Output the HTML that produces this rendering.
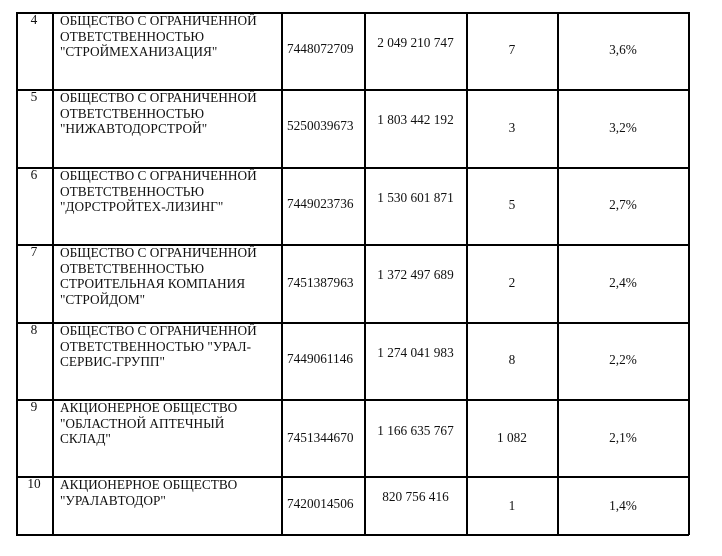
<!DOCTYPE html>
<html><head><meta charset="utf-8"><style>
body{margin:0;width:722px;height:556px;background:#fff;position:relative;overflow:hidden;font-family:"Liberation Serif","DejaVu Serif",serif;font-size:13.3px;color:#111}
.l{position:absolute;background:#000}
.t{position:absolute;line-height:15.5px;white-space:nowrap}
.c{position:absolute;text-align:center;line-height:16px;white-space:nowrap}
</style></head><body>
<div class="l" style="left:16px;top:12px;width:673px;height:1.5px"></div>
<div class="l" style="left:16px;top:89px;width:673px;height:1.5px"></div>
<div class="l" style="left:16px;top:167px;width:673px;height:1.5px"></div>
<div class="l" style="left:16px;top:244px;width:673px;height:1.5px"></div>
<div class="l" style="left:16px;top:322px;width:673px;height:1.5px"></div>
<div class="l" style="left:16px;top:399px;width:673px;height:1.5px"></div>
<div class="l" style="left:16px;top:476px;width:673px;height:1.5px"></div>
<div class="l" style="left:16px;top:534px;width:673px;height:1.5px"></div>
<div class="l" style="left:16px;top:12px;width:1.5px;height:523px"></div>
<div class="l" style="left:52px;top:12px;width:1.5px;height:523px"></div>
<div class="l" style="left:281px;top:12px;width:1.5px;height:523px"></div>
<div class="l" style="left:364px;top:12px;width:1.5px;height:523px"></div>
<div class="l" style="left:466px;top:12px;width:1.5px;height:523px"></div>
<div class="l" style="left:557px;top:12px;width:1.5px;height:523px"></div>
<div class="l" style="left:688px;top:12px;width:1.5px;height:523px"></div>

<!-- rows -->
<div class="c" style="left:16px;width:36px;top:12px">4</div>
<div class="t" style="left:60px;top:13px">ОБЩЕСТВО С ОГРАНИЧЕННОЙ<br>ОТВЕТСТВЕННОСТЬЮ<br>"СТРОЙМЕХАНИЗАЦИЯ"</div>
<div class="t" style="left:287px;top:41px">7448072709</div>
<div class="c" style="left:365px;width:101px;top:35px">2 049 210 747</div>
<div class="c" style="left:467px;width:90px;top:42px">7</div>
<div class="c" style="left:558px;width:130px;top:42px">3,6%</div>

<div class="c" style="left:16px;width:36px;top:89px">5</div>
<div class="t" style="left:60px;top:90px">ОБЩЕСТВО С ОГРАНИЧЕННОЙ<br>ОТВЕТСТВЕННОСТЬЮ<br>"НИЖАВТОДОРСТРОЙ"</div>
<div class="t" style="left:287px;top:118px">5250039673</div>
<div class="c" style="left:365px;width:101px;top:112px">1 803 442 192</div>
<div class="c" style="left:467px;width:90px;top:120px">3</div>
<div class="c" style="left:558px;width:130px;top:120px">3,2%</div>

<div class="c" style="left:16px;width:36px;top:167px">6</div>
<div class="t" style="left:60px;top:168px">ОБЩЕСТВО С ОГРАНИЧЕННОЙ<br>ОТВЕТСТВЕННОСТЬЮ<br>"ДОРСТРОЙТЕХ-ЛИЗИНГ"</div>
<div class="t" style="left:287px;top:196px">7449023736</div>
<div class="c" style="left:365px;width:101px;top:190px">1 530 601 871</div>
<div class="c" style="left:467px;width:90px;top:197px">5</div>
<div class="c" style="left:558px;width:130px;top:197px">2,7%</div>

<div class="c" style="left:16px;width:36px;top:244px">7</div>
<div class="t" style="left:60px;top:245px">ОБЩЕСТВО С ОГРАНИЧЕННОЙ<br>ОТВЕТСТВЕННОСТЬЮ<br>СТРОИТЕЛЬНАЯ КОМПАНИЯ<br>"СТРОЙДОМ"</div>
<div class="t" style="left:287px;top:275px">7451387963</div>
<div class="c" style="left:365px;width:101px;top:267px">1 372 497 689</div>
<div class="c" style="left:467px;width:90px;top:275px">2</div>
<div class="c" style="left:558px;width:130px;top:275px">2,4%</div>

<div class="c" style="left:16px;width:36px;top:322px">8</div>
<div class="t" style="left:60px;top:323px">ОБЩЕСТВО С ОГРАНИЧЕННОЙ<br>ОТВЕТСТВЕННОСТЬЮ "УРАЛ-<br>СЕРВИС-ГРУПП"</div>
<div class="t" style="left:287px;top:351px">7449061146</div>
<div class="c" style="left:365px;width:101px;top:345px">1 274 041 983</div>
<div class="c" style="left:467px;width:90px;top:352px">8</div>
<div class="c" style="left:558px;width:130px;top:352px">2,2%</div>

<div class="c" style="left:16px;width:36px;top:399px">9</div>
<div class="t" style="left:60px;top:400px">АКЦИОНЕРНОЕ ОБЩЕСТВО<br>"ОБЛАСТНОЙ АПТЕЧНЫЙ<br>СКЛАД"</div>
<div class="t" style="left:287px;top:430px">7451344670</div>
<div class="c" style="left:365px;width:101px;top:423px">1 166 635 767</div>
<div class="c" style="left:467px;width:90px;top:430px">1 082</div>
<div class="c" style="left:558px;width:130px;top:430px">2,1%</div>

<div class="c" style="left:16px;width:36px;top:476px">10</div>
<div class="t" style="left:60px;top:477px">АКЦИОНЕРНОЕ ОБЩЕСТВО<br>"УРАЛАВТОДОР"</div>
<div class="t" style="left:287px;top:496px">7420014506</div>
<div class="c" style="left:365px;width:101px;top:489px">820 756 416</div>
<div class="c" style="left:467px;width:90px;top:498px">1</div>
<div class="c" style="left:558px;width:130px;top:498px">1,4%</div>
</body></html>
